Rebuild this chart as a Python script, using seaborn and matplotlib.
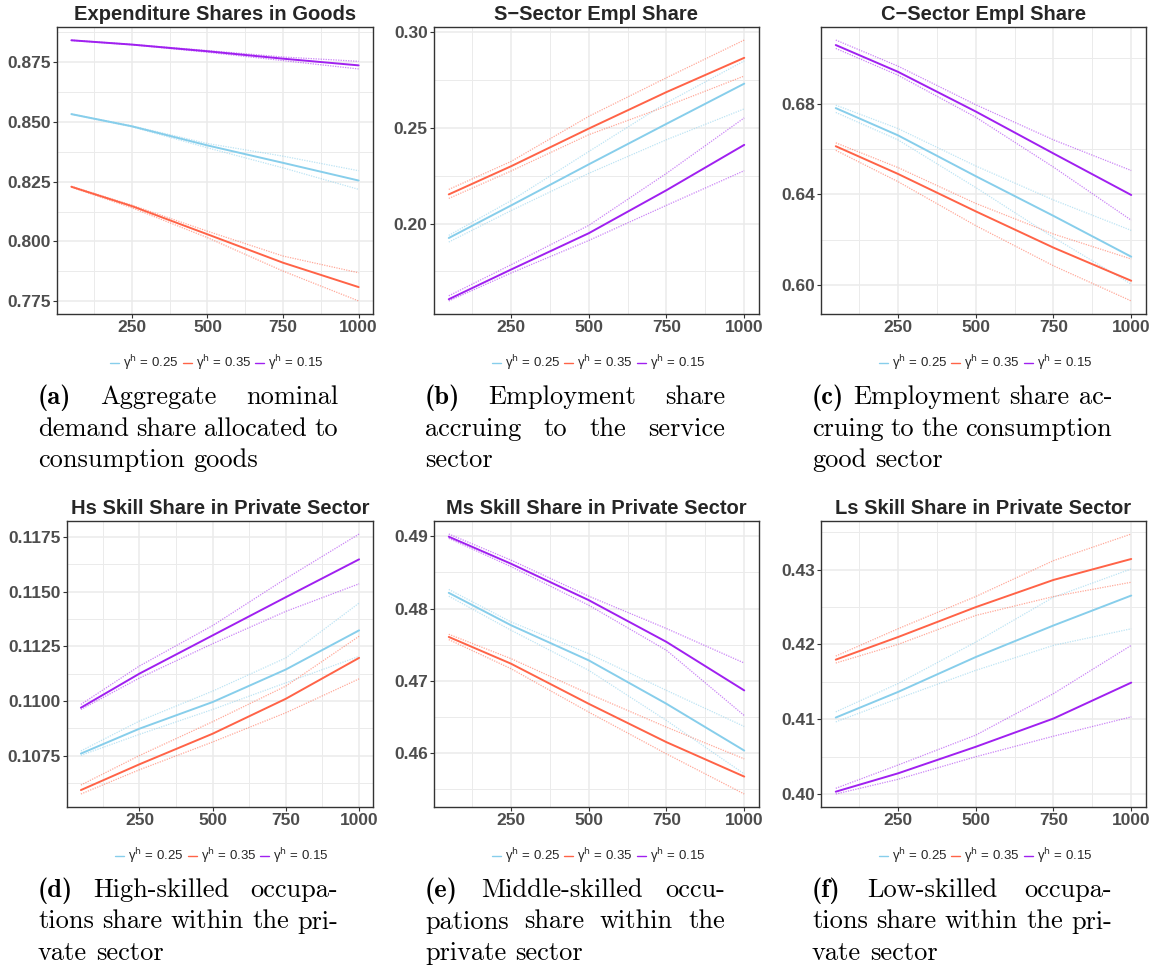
import numpy as np
import pandas as pd
import matplotlib
matplotlib.use("Agg")
import matplotlib.pyplot as plt
import seaborn as sns
from matplotlib.lines import Line2D
from matplotlib.ticker import FormatStrFormatter, MultipleLocator, FixedLocator

# ---------------- data ----------------
periods = [50, 250, 500, 750, 1000]
gammas = ["0.25", "0.35", "0.15"]
legend_labels = ["\u03b3$^{\\mathrm{h}}$ = 0.25", "\u03b3$^{\\mathrm{h}}$ = 0.35", "\u03b3$^{\\mathrm{h}}$ = 0.15"]

# (a) Expenditure shares in goods
e_g25_mean = [0.8533, 0.8482, 0.8402, 0.8329, 0.8255]
e_g25_hi = [0.8534, 0.8484, 0.8410, 0.8357, 0.8296]
e_g25_lo = [0.8532, 0.8480, 0.8392, 0.8308, 0.8218]
e_g35_mean = [0.8229, 0.8148, 0.8030, 0.7911, 0.7809]
e_g35_hi = [0.8231, 0.8152, 0.8043, 0.7939, 0.7869]
e_g35_lo = [0.8227, 0.8141, 0.8016, 0.7876, 0.7751]
e_g15_mean = [0.8842, 0.8824, 0.8796, 0.8765, 0.8737]
e_g15_hi = [0.8843, 0.8825, 0.8799, 0.8772, 0.8754]
e_g15_lo = [0.8841, 0.8823, 0.8792, 0.8757, 0.8722]

# (b) S-sector employment share
s_g25_mean = [0.1925, 0.2095, 0.2310, 0.2522, 0.2732]
s_g25_hi = [0.1939, 0.2120, 0.2377, 0.2632, 0.2851]
s_g25_lo = [0.1904, 0.2068, 0.2263, 0.2439, 0.2600]
s_g35_mean = [0.2153, 0.2300, 0.2497, 0.2688, 0.2867]
s_g35_hi = [0.2179, 0.2325, 0.2561, 0.2763, 0.2960]
s_g35_lo = [0.2132, 0.2275, 0.2465, 0.2614, 0.2772]
s_g15_mean = [0.1605, 0.1760, 0.1950, 0.2175, 0.2412]
s_g15_hi = [0.1623, 0.1785, 0.1991, 0.2263, 0.2553]
s_g15_lo = [0.1596, 0.1742, 0.1912, 0.2096, 0.2277]

# (c) C-sector employment share
c_g25_mean = [0.6780, 0.6660, 0.6480, 0.6305, 0.6125]
c_g25_hi = [0.6793, 0.6690, 0.6525, 0.6375, 0.6241]
c_g25_lo = [0.6761, 0.6640, 0.6430, 0.6210, 0.6004]
c_g35_mean = [0.6612, 0.6490, 0.6325, 0.6165, 0.6019]
c_g35_hi = [0.6627, 0.6518, 0.6360, 0.6225, 0.6115]
c_g35_lo = [0.6594, 0.6456, 0.6262, 0.6085, 0.5930]
c_g15_mean = [0.7058, 0.6940, 0.6765, 0.6580, 0.6397]
c_g15_hi = [0.7080, 0.6965, 0.6795, 0.6640, 0.6505]
c_g15_lo = [0.7043, 0.6925, 0.6740, 0.6520, 0.6286]

# (d) High-skilled share
h_g25_mean = [0.10759, 0.10873, 0.10995, 0.11144, 0.11323]
h_g25_hi = [0.10771, 0.10908, 0.11045, 0.11197, 0.11448]
h_g25_lo = [0.10751, 0.10847, 0.10961, 0.11083, 0.11204]
h_g35_mean = [0.10592, 0.10710, 0.10850, 0.11010, 0.11197]
h_g35_hi = [0.10615, 0.10750, 0.10905, 0.11068, 0.11296]
h_g35_lo = [0.10574, 0.10685, 0.10812, 0.10946, 0.11101]
h_g15_mean = [0.10969, 0.11125, 0.11300, 0.11475, 0.11648]
h_g15_hi = [0.10984, 0.11160, 0.11345, 0.11560, 0.11764]
h_g15_lo = [0.10961, 0.11105, 0.11262, 0.11410, 0.11536]

# (e) Middle-skilled share
m_g25_mean = [0.48217, 0.47769, 0.47283, 0.46682, 0.46035]
m_g25_hi = [0.48264, 0.47815, 0.47376, 0.46867, 0.46368]
m_g25_lo = [0.48171, 0.47700, 0.47145, 0.46451, 0.45712]
m_g35_mean = [0.47607, 0.47237, 0.46682, 0.46151, 0.45675]
m_g35_hi = [0.47644, 0.47307, 0.46821, 0.46359, 0.45920]
m_g35_lo = [0.47570, 0.47168, 0.46567, 0.45989, 0.45434]
m_g15_mean = [0.48994, 0.48620, 0.48116, 0.47538, 0.46867]
m_g15_hi = [0.49031, 0.48670, 0.48171, 0.47723, 0.47246]
m_g15_lo = [0.48971, 0.48580, 0.48046, 0.47422, 0.46520]

# (f) Low-skilled share
l_g25_mean = [0.41022, 0.41364, 0.41831, 0.42253, 0.42653]
l_g25_hi = [0.41098, 0.41476, 0.42031, 0.42631, 0.43009]
l_g25_lo = [0.40964, 0.41276, 0.41653, 0.41987, 0.42209]
l_g35_mean = [0.41796, 0.42098, 0.42498, 0.42862, 0.43142]
l_g35_hi = [0.41844, 0.42209, 0.42640, 0.43120, 0.43476]
l_g35_lo = [0.41751, 0.42000, 0.42387, 0.42640, 0.42831]
l_g15_mean = [0.40031, 0.40276, 0.40631, 0.41009, 0.41489]
l_g15_hi = [0.40076, 0.40387, 0.40787, 0.41342, 0.41987]
l_g15_lo = [0.40000, 0.40196, 0.40498, 0.40773, 0.41031]

titles = ["Expenditure Shares in Goods", "S\u2212Sector Empl Share", "C\u2212Sector Empl Share",
          "Hs Skill Share in Private Sector", "Ms Skill Share in Private Sector",
          "Ls Skill Share in Private Sector"]

captions = [
    ["(a) Aggregate nominal", "demand share allocated to", "consumption goods"],
    ["(b) Employment share", "accruing to the service", "sector"],
    ["(c) Employment share ac-", "cruing to the consumption", "good sector"],
    ["(d) High-skilled occupa-", "tions share within the pri-", "vate sector"],
    ["(e) Middle-skilled occu-", "pations share within the", "private sector"],
    ["(f) Low-skilled occupa-", "tions share within the pri-", "vate sector"],
]

panels = [
    ((e_g25_mean, e_g25_lo, e_g25_hi), (e_g35_mean, e_g35_lo, e_g35_hi), (e_g15_mean, e_g15_lo, e_g15_hi)),
    ((s_g25_mean, s_g25_lo, s_g25_hi), (s_g35_mean, s_g35_lo, s_g35_hi), (s_g15_mean, s_g15_lo, s_g15_hi)),
    ((c_g25_mean, c_g25_lo, c_g25_hi), (c_g35_mean, c_g35_lo, c_g35_hi), (c_g15_mean, c_g15_lo, c_g15_hi)),
    ((h_g25_mean, h_g25_lo, h_g25_hi), (h_g35_mean, h_g35_lo, h_g35_hi), (h_g15_mean, h_g15_lo, h_g15_hi)),
    ((m_g25_mean, m_g25_lo, m_g25_hi), (m_g35_mean, m_g35_lo, m_g35_hi), (m_g15_mean, m_g15_lo, m_g15_hi)),
    ((l_g25_mean, l_g25_lo, l_g25_hi), (l_g35_mean, l_g35_lo, l_g35_hi), (l_g15_mean, l_g15_lo, l_g15_hi)),
]

y_major = [0.025, 0.05, 0.04, 0.0025, 0.01, 0.01]
y_fmt = ["%.3f", "%.2f", "%.2f", "%.4f", "%.2f", "%.2f"]

# ---------------- style ----------------
palette = {"0.25": "#87CEEB", "0.35": "#FF6347", "0.15": "#A020F0"}
sns.set_style("white")
plt.rcParams["font.family"] = ["Liberation Sans", "DejaVu Sans"]
plt.rcParams["mathtext.fontset"] = "dejavusans"

W, H = 1157, 968
fig = plt.figure(figsize=(W / 100, H / 100), dpi=100)

# axes boxes in pixels: left, top, right, bottom
boxes = [(57, 27, 373, 314), (434, 27, 759, 314), (821, 27, 1146, 314),
         (67, 521, 373, 807), (434, 521, 759, 807), (821, 521, 1146, 807)]
cap_x = [(38, 338), (425, 725), (812, 1112), (38, 338), (425, 725), (812, 1112)]


def fr(x, y):
    return x / W, 1 - y / H


for i, (data, box) in enumerate(zip(panels, boxes)):
    l, t, r, b = box
    ax = fig.add_axes([l / W, 1 - b / H, (r - l) / W, (b - t) / H])
    rows_m, rows_b = [], []
    for g, (mean, lo, hi) in zip(gammas, data):
        for x, v in zip(periods, mean):
            rows_m.append((x, v, g))
        for x, v in zip(periods, lo):
            rows_b.append((x, v, g, "lo"))
        for x, v in zip(periods, hi):
            rows_b.append((x, v, g, "hi"))
    dm = pd.DataFrame(rows_m, columns=["t", "v", "g"])
    db = pd.DataFrame(rows_b, columns=["t", "v", "g", "b"])
    sns.lineplot(data=db, x="t", y="v", hue="g", units="b", estimator=None,
                 palette=palette, hue_order=gammas, linestyle=(0, (1, 1)),
                 lw=0.9, alpha=0.55, legend=False, ax=ax)
    sns.lineplot(data=dm, x="t", y="v", hue="g", palette=palette, hue_order=gammas,
                 lw=1.4, legend=False, ax=ax)
    vmin = min(db["v"].min(), dm["v"].min())
    vmax = max(db["v"].max(), dm["v"].max())
    pad = 0.05 * (vmax - vmin)
    ax.set_ylim(vmin - pad, vmax + pad)
    ax.set_xlim(50 - 0.05 * 950, 1000 + 0.05 * 950)
    ax.xaxis.set_major_locator(FixedLocator([250, 500, 750, 1000]))
    ax.xaxis.set_minor_locator(FixedLocator([125, 375, 625, 875]))
    ax.yaxis.set_major_locator(MultipleLocator(y_major[i]))
    ax.yaxis.set_minor_locator(MultipleLocator(y_major[i] / 2))
    ax.yaxis.set_major_formatter(FormatStrFormatter(y_fmt[i]))
    ax.grid(which="major", color="#EBEBEB", lw=1.1)
    ax.grid(which="minor", color="#EBEBEB", lw=0.7)
    ax.set_axisbelow(True)
    for s in ax.spines.values():
        s.set_color("#333333")
        s.set_linewidth(1.0)
    ax.tick_params(which="major", length=3, width=0.8, color="#333333",
                   labelsize=12.5, labelcolor="#4D4D4D", pad=1.5, left=True, bottom=True)
    ax.tick_params(which="minor", length=0)
    for lab in ax.get_xticklabels() + ax.get_yticklabels():
        lab.set_fontweight("bold")
    ax.set_xlabel("")
    ax.set_ylabel("")
    ax.set_title(titles[i], fontsize=14.5, fontweight="bold", pad=5)
    handles = [Line2D([0], [0], color=palette[g], lw=1.0) for g in gammas]
    ly = 363 if i < 3 else 856
    cx, cy = fr((l + r) / 2 + 2, ly)
    ax.legend(handles, legend_labels, loc="center", bbox_to_anchor=(cx, cy),
              bbox_transform=fig.transFigure, ncol=3, frameon=False, fontsize=9.5,
              handlelength=0.7, handletextpad=0.3, columnspacing=0.3, borderpad=0)

# ---------------- captions (justified) ----------------
renderer = fig.canvas.get_renderer()
CAP_FS = 19
space_px = 0.333 * CAP_FS * 100 / 72
for i, lines in enumerate(captions):
    x0, x1 = cap_x[i]
    base = 404 if i < 3 else 897
    for k, line in enumerate(lines):
        y = base + k * 31.5
        words = line.split()
        texts = []
        for j, w in enumerate(words):
            fam = "cmb10" if (k == 0 and j == 0) else "cmr10"
            tx = fig.text(0, 0, w, fontfamily=fam, fontsize=CAP_FS, va="baseline", ha="left", color="black")
            texts.append(tx)
        widths = [tx.get_window_extent(renderer).width for tx in texts]
        if k < len(lines) - 1 and len(words) > 1:
            gap = (x1 - x0 - sum(widths)) / (len(words) - 1)
        else:
            gap = space_px
        x = x0
        for tx, wd in zip(texts, widths):
            tx.set_position(fr(x, y))
            x += wd + gap

fig.savefig("out.png", dpi=100)
